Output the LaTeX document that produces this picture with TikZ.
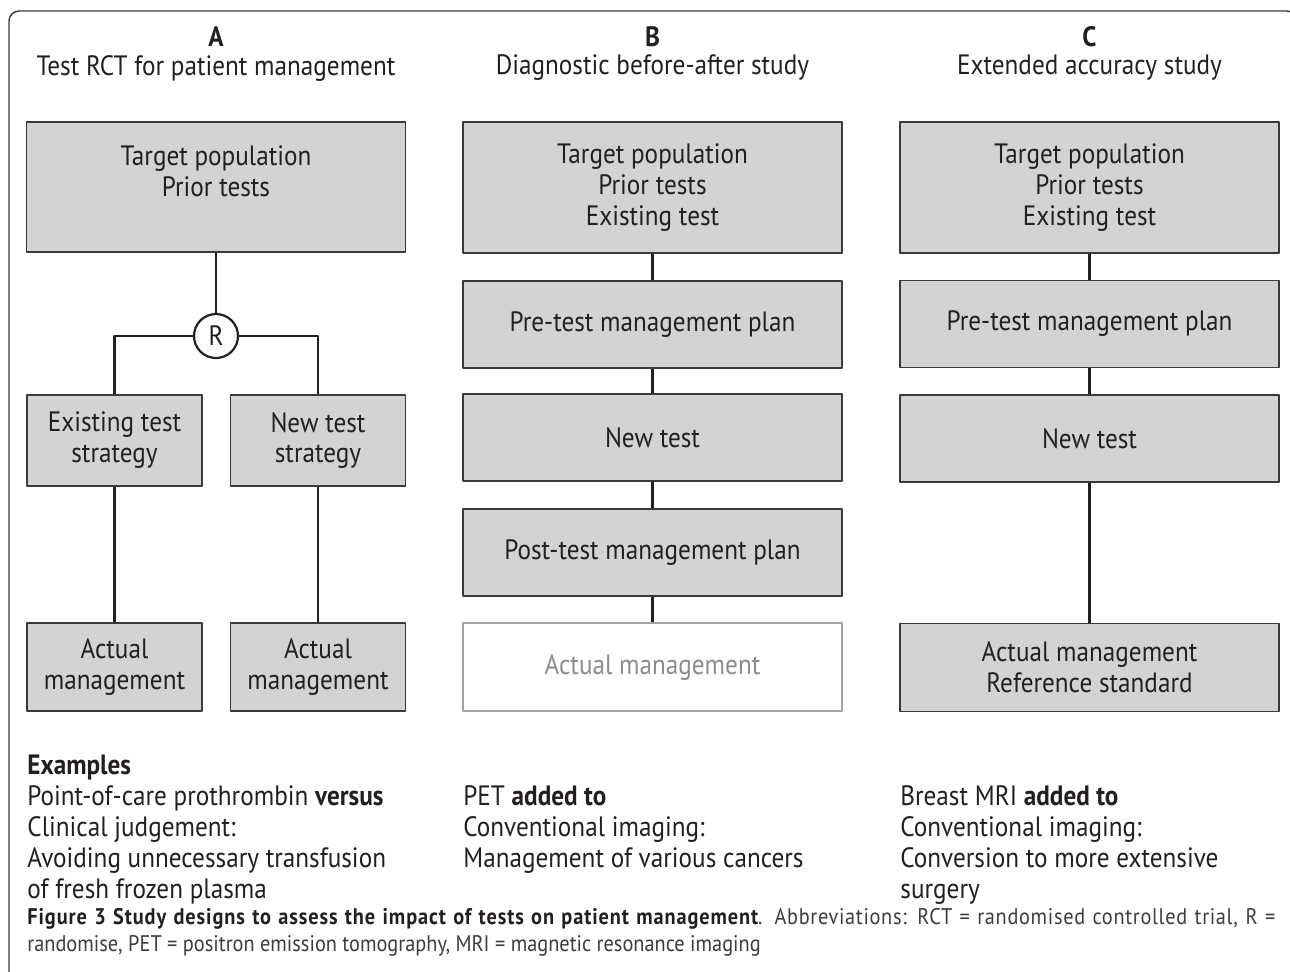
\documentclass[tikz,border=0pt]{standalone}
\usepackage{fontspec}
\setmainfont{PT Sans}[FakeStretch=0.9]
\definecolor{boxfill}{HTML}{D1D3D4}
\definecolor{boxline}{HTML}{3A3A3A}
\definecolor{ink}{HTML}{231F20}
\definecolor{faded}{HTML}{8A8C8E}
\definecolor{capink}{HTML}{3C3C3C}
\newcommand{\boxfont}{\fontsize{14}{15.5}\selectfont}
\newcommand{\capfont}{\fontsize{11.3}{13.5}\selectfont}
\tikzset{
	box/.style={draw=boxline, fill=boxfill, line width=0.6pt, align=center, inner sep=0pt, text=ink, font=\boxfont},
	widebox/.style={box, minimum width=189.5pt, minimum height=43.5pt},
	narrowbox/.style={box, minimum width=87.5pt, minimum height=44pt},
	link/.style={draw=ink, line width=1.1pt},
	head/.style={text=ink, font=\boxfont, inner sep=0pt},
	exmp/.style={text=ink, font=\boxfont, align=left, anchor=north west, inner sep=0pt}
}
\begin{document}
\begin{tikzpicture}[x=0.5pt, y=-0.5pt, line join=round]
	\useasboundingbox (0,0) rectangle (1290,971);
	% outer frame, open at the bottom
	\draw[boxline, line width=0.7pt, rounded corners=5pt] (9,990) -- (9,11) -- (1297,11) -- (1297,80);

	% column A
	\node[head] (letA) at (216,37) {\bfseries A};
	\node[head] (titA) at (216,68) {Test RCT for patient management};
	\node[widebox, minimum height=65pt] (tgtA) at (216,187) {Target population\\Prior tests\\\phantom{Prior tests}};
	\node[circle, draw=ink, fill=white, line width=1.1pt, minimum size=22pt, inner sep=0pt, text=ink, font=\boxfont] (rndA) at (216,336) {R};
	\node[narrowbox, minimum height=45.5pt] (oldA) at (114.5,440.5) {Existing test\\strategy};
	\node[narrowbox, minimum height=45.5pt] (newA) at (318,440.5) {New test\\strategy};
	\node[narrowbox] (actA) at (114.5,667) {Actual\\management};
	\node[narrowbox] (actAA) at (318,667) {Actual\\management};
	\draw[link] (tgtA) -- (rndA);
	\draw[link] (rndA.west) -| (oldA.north);
	\draw[link] (rndA.east) -| (newA.north);
	\draw[link] (oldA) -- (actA);
	\draw[link] (newA) -- (actAA);

	% column B
	\node[head] (letB) at (652.5,37) {\bfseries B};
	\node[head] (titB) at (652.5,68) {Diagnostic before-after study};
	\node[widebox, minimum height=65.5pt] (tgtB) at (652.5,187.5) {Target population\\Prior tests\\Existing test};
	\node[widebox] (preB) at (652.5,324.5) {Pre-test management plan};
	\node[widebox] (newB) at (652.5,437.5) {New test};
	\node[widebox] (postB) at (652.5,552.5) {Post-test management plan};
	\node[widebox, minimum height=44pt, draw=faded!80, fill=white, text=faded] (actB) at (652.5,667) {Actual management};
	\foreach \a/\b in {tgtB/preB, preB/newB, newB/postB, postB/actB}
		\draw[link] (\a) -- (\b);

	% column C
	\node[head] (letC) at (1089.5,37) {\bfseries C};
	\node[head] (titC) at (1089.5,68) {Extended accuracy study};
	\node[widebox, minimum height=65.5pt] (tgtC) at (1089.5,187.5) {Target population\\Prior tests\\Existing test};
	\node[widebox] (preC) at (1089.5,324) {Pre-test management plan};
	\node[widebox] (newC) at (1089.5,438.5) {New test};
	\node[widebox, minimum height=44pt] (actC) at (1089.5,667.5) {Actual management\\Reference standard};
	\foreach \a/\b in {tgtC/preC, preC/newC, newC/actC}
		\draw[link] (\a) -- (\b);

	% examples
	\node[exmp] (exA) at (27,754) {\textbf{Examples}\\Point-of-care prothrombin \textbf{versus}\\Clinical judgement:\\Avoiding unnecessary transfusion\\of fresh frozen plasma};
	\node[exmp] (exB) at (463,785) {PET \textbf{added to}\\Conventional imaging:\\Management of various cancers};
	\node[exmp] (exC) at (900,785) {Breast MRI \textbf{added to}\\Conventional imaging:\\Conversion to more extensive\\surgery};

	% caption
	\node[anchor=north west, inner sep=0pt, text width=624pt, align=justify, font=\capfont, text=capink] (cap) at (27,908)
		{\textbf{\addfontfeature{LetterSpace=4}\color{ink}Figure 3 Study designs to assess the impact of tests on patient management}{\addfontfeature{LetterSpace=3}. Abbreviations: RCT = randomised controlled trial, R~=}\linebreak randomise, PET = positron emission tomography, MRI = magnetic resonance imaging};
\end{tikzpicture}
\end{document}
